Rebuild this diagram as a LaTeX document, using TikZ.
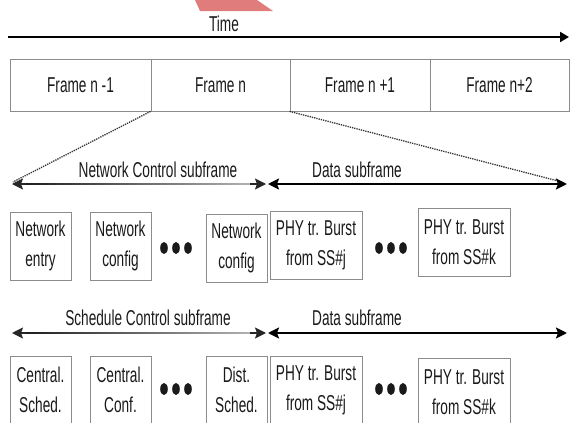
\documentclass[tikz,border=0pt]{standalone}
\usepackage{fontspec}
\setmainfont[FakeStretch=0.635]{Liberation Sans}
\usetikzlibrary{arrows.meta}
\definecolor{wmred}{HTML}{E07C7C}
\definecolor{ink}{HTML}{1A1A1A}
\tikzset{
  lbl/.style={font=\fontsize{21.5}{30}\selectfont, text=ink, inner sep=0pt},
  cell/.style={draw=black!45, line width=0.8pt, minimum height=52pt, inner sep=0pt,
               font=\fontsize{21.5}{30}\selectfont, text=ink},
  boxn/.style={draw=black!45, line width=0.8pt, fill=white, inner sep=0pt, align=center,
               minimum height=68pt, font=\fontsize{21.5}{30}\selectfont, text=ink},
  narrow/.style={boxn, minimum width=61pt},
  wide/.style={boxn, minimum width=92pt},
  dotline/.style={densely dotted, line width=1.3pt, black!80},
  timearrow/.style={line width=2pt, -{Triangle[length=9pt,width=10pt]}},
  dataarrow/.style={line width=2.6pt, {Stealth[length=11pt,width=11pt,inset=2pt]}-{Stealth[length=11pt,width=11pt,inset=2pt]}},
  ctlhead/.style={line width=1.4pt, black!85, -{Stealth[length=11pt,width=11pt,inset=2pt]}},
  bigdot/.style={fill=ink},
}
\begin{document}
\begin{tikzpicture}[x=1pt,y=-1pt]
\useasboundingbox (0,0) rectangle (571,423);
\clip (0,0) rectangle (571,423);
% watermark fragment
\fill[wmred] (195,0) -- (257,0) -- (273,11) -- (200,11) -- cycle;
% time axis
\node[lbl] (time) at (224,24) {Time};
\coordinate (t0) at (8,37);
\coordinate (t1) at (569,37);
\draw[timearrow] (t0) -- (t1);
% frame row
\node[cell, minimum width=141pt] (f1) at (80.5,85) {Frame n -1};
\node[cell, minimum width=139pt] (f2) at (220.5,85) {Frame n};
\node[cell, minimum width=140pt] (f3) at (360,85) {Frame n +1};
\node[cell, minimum width=139pt] (f4) at (499.5,85) {Frame n+2};
% zoom lines
\coordinate (zl) at (13,182);
\coordinate (zr) at (562,182);
\draw[dotline] (f2.south west) -- (zl);
\draw[dotline] (f3.south west) -- (zr);
% ---- first subframe row ----
\coordinate (a1l) at (12,184);
\coordinate (a1m) at (266,184);
\coordinate (a1n) at (268,184);
\coordinate (a1r) at (567,184);
\shade[left color=black!90, right color=black!30] (20,183.1) rectangle (252,184.9);
\draw[ctlhead] (26,184) -- (a1l);
\draw[ctlhead] (250,184) -- (a1m);
\draw[dataarrow] (a1n) -- (a1r);
\node[lbl] (nclab) at (158,170) {Network Control subframe};
\node[lbl] (dlab1) at (357,170) {Data subframe};
\node[narrow] (b11) at (40.5,246) {Network\\entry};
\node[narrow] (b12) at (120.5,246) {Network\\config};
\fill[bigdot] (164,248) ellipse (3.8 and 6);
\fill[bigdot] (176,248) ellipse (3.8 and 6);
\fill[bigdot] (188,248) ellipse (3.8 and 6);
\node[narrow] (b13) at (236.5,248) {Network\\config};
\node[wide] (b14) at (316,245.5) {PHY tr. Burst\\from SS\#j};
\fill[bigdot] (379,248) ellipse (3.8 and 6);
\fill[bigdot] (391,248) ellipse (3.8 and 6);
\fill[bigdot] (403,248) ellipse (3.8 and 6);
\node[wide] (b15) at (464,242.5) {PHY tr. Burst\\from SS\#k};
% ---- second subframe row ----
\coordinate (a2l) at (12,333);
\coordinate (a2m) at (266,333);
\coordinate (a2n) at (268,333);
\coordinate (a2r) at (567,333);
\shade[left color=black!90, right color=black!30] (20,332.1) rectangle (252,333.9);
\draw[ctlhead] (26,333) -- (a2l);
\draw[ctlhead] (250,333) -- (a2m);
\draw[dataarrow] (a2n) -- (a2r);
\node[lbl] (sclab) at (148,318) {Schedule Control subframe};
\node[lbl] (dlab2) at (357,318) {Data subframe};
\node[narrow] (b21) at (40.5,390) {Central.\\Sched.};
\node[narrow] (b22) at (120.5,390) {Central.\\Conf.};
\fill[bigdot] (164,389) ellipse (3.8 and 6);
\fill[bigdot] (176,389) ellipse (3.8 and 6);
\fill[bigdot] (188,389) ellipse (3.8 and 6);
\node[narrow] (b23) at (236.5,390) {Dist.\\Sched.};
\node[wide] (b24) at (316,390) {PHY tr. Burst\\from SS\#j};
\fill[bigdot] (379,389) ellipse (3.8 and 6);
\fill[bigdot] (391,389) ellipse (3.8 and 6);
\fill[bigdot] (403,389) ellipse (3.8 and 6);
\node[wide] (b25) at (464,392) {PHY tr. Burst\\from SS\#k};
\end{tikzpicture}
\end{document}
